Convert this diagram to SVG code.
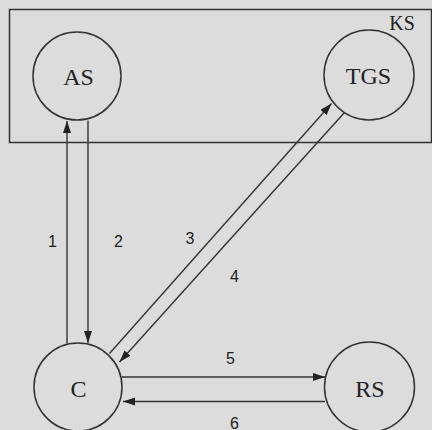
<svg xmlns="http://www.w3.org/2000/svg" width="432" height="430" viewBox="0 0 432 430">
<defs>
<style>
.n{fill:none;stroke:#333;stroke-width:1.5}
.t{font-family:"Liberation Serif",serif;font-size:24px;fill:#222;text-anchor:middle}
.e{stroke:#333;stroke-width:1.4;fill:none;marker-end:url(#ah)}
.l{font-family:"Liberation Sans",sans-serif;font-size:16px;fill:#222;text-anchor:middle}
</style>
<marker id="ah" markerUnits="userSpaceOnUse" markerWidth="13" markerHeight="9" refX="12" refY="4" orient="auto">
<path d="M0,0 L12,4 L0,8 z" fill="#222"/>
</marker>
</defs>
<rect x="0" y="0" width="432" height="430" fill="#dcdcdc"/>
<g id="KS">
<rect x="9.5" y="9.5" width="422" height="133" class="n"/>
<text x="402" y="30" class="t" style="font-size:20px">KS</text>
</g>
<g id="AS">
<circle cx="77" cy="76" r="44" class="n"/>
<text x="78.5" y="85" class="t">AS</text>
</g>
<g id="TGS">
<circle cx="369" cy="75" r="45" class="n"/>
<text x="368.5" y="83.5" class="t">TGS</text>
</g>
<g id="C">
<circle cx="78" cy="387" r="44" class="n"/>
<text x="78.5" y="396.5" class="t">C</text>
</g>
<g id="RS">
<circle cx="369.5" cy="387" r="45" class="n"/>
<text x="370" y="396.5" class="t">RS</text>
</g>
<g id="connectors">
<line x1="67" y1="343.5" x2="67" y2="121" class="e"/>
<line x1="88" y1="120.5" x2="88" y2="343" class="e"/>
<line x1="109.5" y1="353.5" x2="331.5" y2="103.5" class="e"/>
<line x1="344.5" y1="112.5" x2="119.5" y2="362" class="e"/>
<line x1="122" y1="377" x2="325" y2="377" class="e"/>
<line x1="325" y1="401.5" x2="123" y2="401.5" class="e"/>
<text x="52.5" y="246.5" class="l">1</text>
<text x="118.5" y="246.5" class="l">2</text>
<text x="190" y="244" class="l">3</text>
<text x="234.5" y="281.5" class="l">4</text>
<text x="230.5" y="364" class="l">5</text>
<text x="234.5" y="428.5" class="l">6</text>
</g>
</svg>
